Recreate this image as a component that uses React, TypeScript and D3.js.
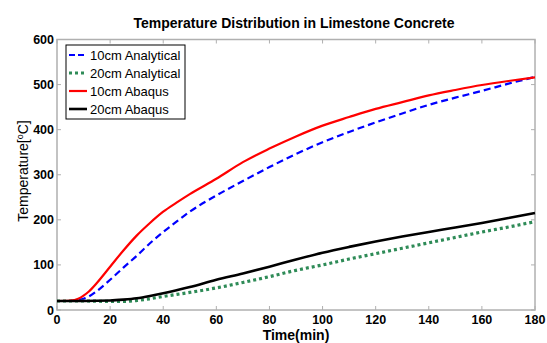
import React from "react";
import * as d3 from "d3";

const xTicks = [0, 20, 40, 60, 80, 100, 120, 140, 160, 180];
const yTicks = [0, 100, 200, 300, 400, 500, 600];

const redT = [0, 5, 8, 10, 12, 15, 20, 25, 30, 35, 40, 45, 50, 60, 70, 80, 90, 100, 110, 120, 130, 140, 150, 160, 170, 180];
const redV = [20, 21, 25, 32, 41, 60, 96, 132, 165, 193, 218, 238, 257, 291, 328, 358, 385, 409, 428, 446, 461, 476, 488, 499, 508, 516];

const blueT = [0, 5, 8, 10, 12, 15, 20, 25, 30, 35, 40, 45, 50, 60, 70, 80, 90, 100, 110, 120, 130, 140, 150, 160, 170, 180];
const blueV = [20, 20, 22, 25, 30, 42, 67, 94, 120, 148, 173, 196, 218, 254, 286, 317, 346, 372, 395, 416, 436, 455, 471, 486, 502, 517];

const blackT = [0, 10, 20, 25, 30, 35, 40, 50, 60, 70, 80, 90, 100, 110, 120, 130, 140, 150, 160, 170, 180];
const blackV = [20, 20, 21, 23, 26, 31, 37, 51, 67, 81, 96, 112, 127, 140, 152, 163, 173, 183, 193, 204, 215];

const greenT = [0, 10, 20, 25, 30, 35, 40, 50, 60, 70, 80, 90, 100, 110, 120, 130, 140, 150, 160, 170, 180];
const greenV = [20, 20, 19, 19, 21, 25, 30, 39, 49, 61, 74, 88, 100, 113, 125, 137, 149, 161, 173, 184, 196];

const legendLabels = ["10cm Analytical", "20cm Analytical", "10cm Abaqus", "20cm Abaqus"];

export default function App() {
  const W = 547, H = 343;
  const left = 57, right = 535, top = 39.5, bottom = 310;
  const x = d3.scaleLinear().domain([0, 180]).range([left, right]);
  const y = d3.scaleLinear().domain([0, 600]).range([bottom, top]);
  const line = d3.line<[number, number]>().x(d => x(d[0])).y(d => y(d[1])).curve(d3.curveMonotoneX);
  const mk = (t: number[], v: number[]) => line(t.map((tt, i) => [tt, v[i]] as [number, number])) || "";

  const series = [
    { d: mk(blueT, blueV), stroke: "#0000ff", w: 2.2, dash: "7,4", ldash: "6,3", label: legendLabels[0] },
    { d: mk(greenT, greenV), stroke: "#2e8b57", w: 3.2, dash: "3,3", ldash: "3,3", label: legendLabels[1] },
    { d: mk(redT, redV), stroke: "#ff0000", w: 2.2, dash: undefined, ldash: undefined, label: legendLabels[2] },
    { d: mk(blackT, blackV), stroke: "#000000", w: 2.6, dash: undefined, ldash: undefined, label: legendLabels[3] },
  ];
  const font = "Liberation Sans, Arial, sans-serif";
  const axisColor = "#b0b0b0";
  const tl = 4;

  return (
    <svg width={W} height={H} style={{ position: "absolute", left: 0, top: 0, background: "#fff" }} fontFamily={font}>
      <rect x={0} y={0} width={W} height={H} fill="#fff" />
      <text x={294} y={27.5} textAnchor="middle" fontSize={14} fontWeight="bold" fill="#000">Temperature Distribution in Limestone Concrete</text>
      <rect x={left} y={top} width={right - left} height={bottom - top} fill="#fff" stroke={axisColor} strokeWidth={1.5} />
      {xTicks.map(t => (
        <g key={"xt" + t}>
          <line x1={x(t)} x2={x(t)} y1={bottom} y2={bottom - tl} stroke={axisColor} />
          <line x1={x(t)} x2={x(t)} y1={top} y2={top + tl} stroke={axisColor} />
          <text x={x(t)} y={bottom + 13.5} textAnchor="middle" fontSize={12.5} fontWeight="bold" fill="#000">{t}</text>
        </g>
      ))}
      {yTicks.map(v => (
        <g key={"yt" + v}>
          <line x1={left} x2={left + tl} y1={y(v)} y2={y(v)} stroke={axisColor} />
          <line x1={right} x2={right - tl} y1={y(v)} y2={y(v)} stroke={axisColor} />
          <text x={left - 3} y={y(v) + 4.5} textAnchor="end" fontSize={12.5} fontWeight="bold" fill="#000">{v}</text>
        </g>
      ))}
      <defs>
        <clipPath id="clip"><rect x={left} y={top} width={right - left + 2} height={bottom - top} /></clipPath>
      </defs>
      <g clipPath="url(#clip)">
        {series.map((s, i) => (
          <path key={i} d={s.d} fill="none" stroke={s.stroke} strokeWidth={s.w} strokeDasharray={s.dash} />
        ))}
      </g>
      <text x={296} y={339.5} textAnchor="middle" fontSize={14} fontWeight="bold" fill="#000">Time(min)</text>
      <text transform="translate(28,171) rotate(-90)" textAnchor="middle" fontSize={14} fill="#000">
        Temperature[<tspan dy={-5} fontSize={9}>o</tspan><tspan dy={5}>C]</tspan>
      </text>
      <rect x={66} y={45} width={119} height={74} fill="#fff" stroke="#000" strokeWidth={1} />
      {series.map((s, i) => (
        <g key={"lg" + i}>
          <line x1={69} x2={87} y1={55 + i * 18} y2={55 + i * 18} stroke={s.stroke} strokeWidth={s.w} strokeDasharray={s.ldash} />
          <text x={90} y={60 + i * 18} fontSize={13} fill="#000">{s.label}</text>
        </g>
      ))}
    </svg>
  );
}
